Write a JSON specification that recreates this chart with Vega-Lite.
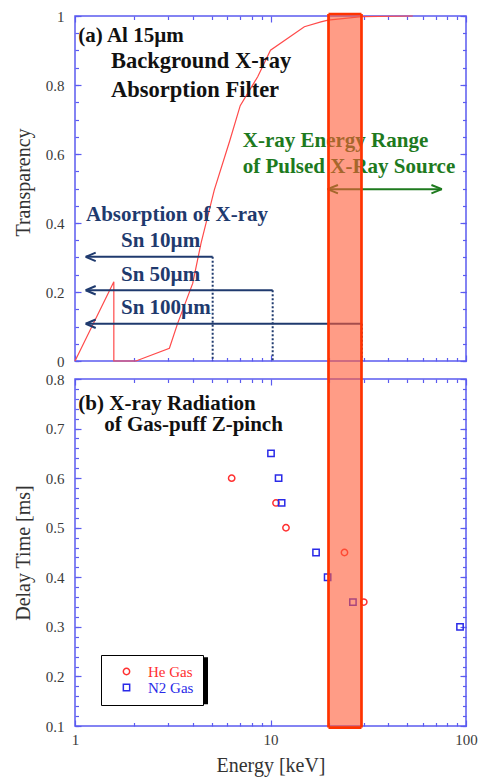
{
  "$schema": "https://vega.github.io/schema/vega-lite/v6.json",
  "padding": {"left": 12, "top": 8, "right": 5, "bottom": 2},
  "background": "white",
  "spacing": 18,
  "bounds": "flush",
  "config": {
    "view": {"stroke": "#5b5bf0", "strokeWidth": 1.5},
    "axis": {"domain": false, "grid": false, "tickColor": "#5b5bf0", "tickWidth": 1.2, "labelFont": "Liberation Serif", "labelFontSize": 15, "labelColor": "#3a3a3a", "titleFont": "Liberation Serif", "titleFontSize": 20, "titleFontWeight": "normal", "titleColor": "#333333", "labelFlush": false, "labelOverlap": false, "labelBound": false},
    "text": {"font": "Liberation Serif", "fontWeight": "bold", "fontSize": 21, "align": "left", "baseline": "alphabetic"}
  },
  "resolve": {"scale": {"color": "independent", "shape": "independent"}, "legend": {"color": "independent", "shape": "independent"}},
  "datasets": {
    "al": [
      {"i": 1, "E": 1.0, "T": 0.0},
      {"i": 2, "E": 1.58, "T": 0.23},
      {"i": 3, "E": 1.58, "T": 0.0},
      {"i": 4, "E": 2.05, "T": 0.0},
      {"i": 5, "E": 3.04, "T": 0.037},
      {"i": 6, "E": 3.35, "T": 0.109},
      {"i": 7, "E": 4.0, "T": 0.225},
      {"i": 8, "E": 4.41, "T": 0.341},
      {"i": 9, "E": 5.16, "T": 0.496},
      {"i": 10, "E": 6.2, "T": 0.64},
      {"i": 11, "E": 7.0, "T": 0.74},
      {"i": 12, "E": 8.6, "T": 0.824},
      {"i": 13, "E": 10.0, "T": 0.901},
      {"i": 14, "E": 14.9, "T": 0.969},
      {"i": 15, "E": 18.1, "T": 0.983},
      {"i": 16, "E": 19.7, "T": 0.988},
      {"i": 17, "E": 29.3, "T": 0.998},
      {"i": 18, "E": 53.4, "T": 1.0}
    ],
    "sn": [
      {"E0": 1.134, "Eh": 1.203, "E1": 5.06, "T": 0.302},
      {"E0": 1.134, "Eh": 1.203, "E1": 10.26, "T": 0.205},
      {"E0": 1.134, "Eh": 1.203, "E1": 29.3, "T": 0.108}
    ],
    "range": [{"E0": 19.7, "E1": 75.1, "Ea": 20.8, "Eb": 70.8, "T": 0.498}],
    "band": [{"E0": 19.8, "E1": 29.2}],
    "bandEdges": [{"E": 19.8}, {"E": 29.2}],
    "notesTop": [
      {"text": "(a) Al 15µm", "E": 1.04, "T": 0.9255, "grp": "black"},
      {"text": "Background X-ray", "E": 1.528, "T": 0.848, "grp": "black2"},
      {"text": "Absorption Filter", "E": 1.528, "T": 0.766, "grp": "black2"},
      {"text": "X-ray Energy Range", "E": 7.21, "T": 0.621, "grp": "green"},
      {"text": "of Pulsed X-Ray Source", "E": 7.21, "T": 0.544, "grp": "green"},
      {"text": "Absorption of X-ray", "E": 1.138, "T": 0.406, "grp": "navy"},
      {"text": "Sn 10µm", "E": 1.719, "T": 0.331, "grp": "navy"},
      {"text": "Sn 50µm", "E": 1.719, "T": 0.232, "grp": "navy"},
      {"text": "Sn 100µm", "E": 1.719, "T": 0.135, "grp": "navy"}
    ],
    "notesBottom": [
      {"text": "(b) X-ray Radiation", "E": 1.04, "D": 0.738},
      {"text": "of Gas-puff Z-pinch", "E": 1.412, "D": 0.6944}
    ],
    "gas": [
      {"gas": "He Gas", "E": 6.33, "D": 0.6},
      {"gas": "He Gas", "E": 10.67, "D": 0.55},
      {"gas": "He Gas", "E": 12.0, "D": 0.5},
      {"gas": "He Gas", "E": 23.9, "D": 0.45},
      {"gas": "He Gas", "E": 30.0, "D": 0.35},
      {"gas": "N2 Gas", "E": 10.06, "D": 0.65},
      {"gas": "N2 Gas", "E": 11.0, "D": 0.6},
      {"gas": "N2 Gas", "E": 11.4, "D": 0.55},
      {"gas": "N2 Gas", "E": 17.1, "D": 0.45},
      {"gas": "N2 Gas", "E": 19.6, "D": 0.4},
      {"gas": "N2 Gas", "E": 26.4, "D": 0.35},
      {"gas": "N2 Gas", "E": 93.2, "D": 0.3}
    ],
    "shadow": [{"E0": 1.407, "E1": 4.79, "D0": 0.1438, "D1": 0.2385}]
  },
  "vconcat": [
    {
      "width": 391,
      "height": 345,
      "resolve": {"axis": {"x": "independent", "y": "independent"}},
      "layer": [
        {
          "data": {"name": "al"},
          "mark": {"type": "line", "color": "#ff4a4a", "strokeWidth": 1.2},
          "encoding": {
            "x": {"field": "E", "type": "quantitative", "scale": {"type": "log", "domain": [1, 100], "nice": false}, "axis": {"orient": "bottom", "values": [1, 10, 100], "labels": false, "tickSize": -6, "title": null}},
            "y": {"field": "T", "type": "quantitative", "scale": {"domain": [0, 1], "nice": false, "zero": false}, "axis": {"orient": "left", "values": [0, 0.2, 0.4, 0.6, 0.8, 1], "format": "~g", "tickSize": -6, "labelPadding": 17, "title": "Transparency", "titleX": -52, "titleY": 166, "titleBaseline": "middle"}},
            "order": {"field": "i", "type": "quantitative"}
          }
        },
        {
          "data": {"name": "sn"},
          "mark": {"type": "rule", "color": "#1f3a6e", "strokeWidth": 2},
          "encoding": {
            "x": {"field": "E0", "type": "quantitative", "scale": {"type": "log", "domain": [1, 100], "nice": false}, "axis": {"orient": "bottom", "values": [2, 3, 4, 5, 6, 7, 8, 9, 20, 30, 40, 50, 60, 70, 80, 90], "labels": false, "tickSize": -3.5, "title": null}},
            "x2": {"field": "E1"},
            "y": {"field": "T", "type": "quantitative", "scale": {"domain": [0, 1], "nice": false, "zero": false}, "axis": {"orient": "left", "values": [0, 0.05, 0.1, 0.15, 0.2, 0.25, 0.3, 0.35, 0.4, 0.45, 0.5, 0.55, 0.6, 0.65, 0.7, 0.75, 0.8, 0.85, 0.9, 0.95, 1], "labels": false, "tickSize": -3.5, "title": null}}
          }
        },
        {
          "data": {"name": "sn"},
          "mark": {"type": "rule", "color": "#1f3a6e", "strokeWidth": 2, "strokeDash": [2, 2]},
          "encoding": {
            "x": {"field": "E1", "type": "quantitative", "scale": {"type": "log", "domain": [1, 100], "nice": false}, "axis": {"orient": "top", "values": [1, 10, 100], "labels": false, "tickSize": -6, "title": null}},
            "y": {"field": "T", "type": "quantitative", "scale": {"domain": [0, 1], "nice": false, "zero": false}, "axis": {"orient": "right", "values": [0, 0.2, 0.4, 0.6, 0.8, 1], "labels": false, "tickSize": -6, "title": null}},
            "y2": {"datum": 0}
          }
        },
        {
          "data": {"name": "sn"},
          "mark": {"type": "point", "shape": "M-1,0L1,-0.85M-1,0L1,0.85", "size": 100, "filled": false, "color": "#1f3a6e", "strokeWidth": 2, "opacity": 1},
          "encoding": {
            "x": {"field": "Eh", "type": "quantitative", "scale": {"type": "log", "domain": [1, 100], "nice": false}, "axis": {"orient": "top", "values": [2, 3, 4, 5, 6, 7, 8, 9, 20, 30, 40, 50, 60, 70, 80, 90], "labels": false, "tickSize": -3.5, "title": null}},
            "y": {"field": "T", "type": "quantitative", "scale": {"domain": [0, 1], "nice": false, "zero": false}, "axis": {"orient": "right", "values": [0, 0.05, 0.1, 0.15, 0.2, 0.25, 0.3, 0.35, 0.4, 0.45, 0.5, 0.55, 0.6, 0.65, 0.7, 0.75, 0.8, 0.85, 0.9, 0.95, 1], "labels": false, "tickSize": -3.5, "title": null}}
          }
        },
        {
          "data": {"name": "notesTop"},
          "transform": [{"filter": "datum.grp === 'black'"}],
          "mark": {"type": "text", "color": "#111111"},
          "encoding": {
            "x": {"field": "E", "type": "quantitative", "scale": {"type": "log", "domain": [1, 100], "nice": false}, "axis": null},
            "y": {"field": "T", "type": "quantitative", "scale": {"domain": [0, 1], "nice": false, "zero": false}, "axis": null},
            "text": {"field": "text"}
          }
        },
        {
          "data": {"name": "notesTop"},
          "transform": [{"filter": "datum.grp === 'black2'"}],
          "mark": {"type": "text", "color": "#111111", "fontSize": 22.5},
          "encoding": {
            "x": {"field": "E", "type": "quantitative", "scale": {"type": "log", "domain": [1, 100], "nice": false}, "axis": null},
            "y": {"field": "T", "type": "quantitative", "scale": {"domain": [0, 1], "nice": false, "zero": false}, "axis": null},
            "text": {"field": "text"}
          }
        },
        {
          "data": {"name": "notesTop"},
          "transform": [{"filter": "datum.grp === 'green'"}],
          "mark": {"type": "text", "color": "#1e7a1e"},
          "encoding": {
            "x": {"field": "E", "type": "quantitative", "scale": {"type": "log", "domain": [1, 100], "nice": false}, "axis": null},
            "y": {"field": "T", "type": "quantitative", "scale": {"domain": [0, 1], "nice": false, "zero": false}, "axis": null},
            "text": {"field": "text"}
          }
        },
        {
          "data": {"name": "notesTop"},
          "transform": [{"filter": "datum.grp === 'navy'"}],
          "mark": {"type": "text", "color": "#1f3a6e"},
          "encoding": {
            "x": {"field": "E", "type": "quantitative", "scale": {"type": "log", "domain": [1, 100], "nice": false}, "axis": null},
            "y": {"field": "T", "type": "quantitative", "scale": {"domain": [0, 1], "nice": false, "zero": false}, "axis": null},
            "text": {"field": "text"}
          }
        },
        {
          "data": {"name": "range"},
          "mark": {"type": "rule", "color": "#1e7a1e", "strokeWidth": 2},
          "encoding": {
            "x": {"field": "E0", "type": "quantitative", "scale": {"type": "log", "domain": [1, 100], "nice": false}, "axis": null},
            "x2": {"field": "E1"},
            "y": {"field": "T", "type": "quantitative", "scale": {"domain": [0, 1], "nice": false, "zero": false}, "axis": null}
          }
        },
        {
          "data": {"name": "range"},
          "mark": {"type": "point", "shape": "M-1,0L1,-0.8M-1,0L1,0.8", "size": 110, "filled": false, "color": "#1e7a1e", "strokeWidth": 2, "opacity": 1},
          "encoding": {
            "x": {"field": "Ea", "type": "quantitative", "scale": {"type": "log", "domain": [1, 100], "nice": false}, "axis": null},
            "y": {"field": "T", "type": "quantitative", "scale": {"domain": [0, 1], "nice": false, "zero": false}, "axis": null}
          }
        },
        {
          "data": {"name": "range"},
          "mark": {"type": "point", "shape": "M1,0L-1,-0.8M1,0L-1,0.8", "size": 110, "filled": false, "color": "#1e7a1e", "strokeWidth": 2, "opacity": 1},
          "encoding": {
            "x": {"field": "Eb", "type": "quantitative", "scale": {"type": "log", "domain": [1, 100], "nice": false}, "axis": null},
            "y": {"field": "T", "type": "quantitative", "scale": {"domain": [0, 1], "nice": false, "zero": false}, "axis": null}
          }
        },
        {
          "data": {"name": "band"},
          "mark": {"type": "rect", "color": "#ff5a36", "opacity": 0.6, "clip": false},
          "encoding": {
            "x": {"field": "E0", "type": "quantitative", "scale": {"type": "log", "domain": [1, 100], "nice": false}, "axis": null},
            "x2": {"field": "E1"},
            "y": {"datum": 1.0058, "type": "quantitative", "scale": {"domain": [0, 1], "nice": false, "zero": false}, "axis": null},
            "y2": {"datum": -0.026}
          }
        },
        {
          "data": {"name": "bandEdges"},
          "mark": {"type": "rule", "color": "#ff3300", "strokeWidth": 2.7, "clip": false},
          "encoding": {
            "x": {"field": "E", "type": "quantitative", "scale": {"type": "log", "domain": [1, 100], "nice": false}, "axis": null},
            "y": {"datum": 1.0058, "type": "quantitative", "scale": {"domain": [0, 1], "nice": false, "zero": false}, "axis": null},
            "y2": {"datum": -0.026}
          }
        },
        {
          "data": {"name": "band"},
          "mark": {"type": "rule", "color": "#ff3300", "strokeWidth": 2.7, "clip": false},
          "encoding": {
            "x": {"field": "E0", "type": "quantitative", "scale": {"type": "log", "domain": [1, 100], "nice": false}, "axis": null},
            "x2": {"field": "E1"},
            "y": {"datum": 1.0058, "type": "quantitative", "scale": {"domain": [0, 1], "nice": false, "zero": false}, "axis": null}
          }
        }
      ]
    },
    {
      "width": 391,
      "height": 347,
      "resolve": {"axis": {"x": "independent", "y": "independent"}},
      "layer": [
        {
          "data": {"name": "shadow"},
          "mark": {"type": "rect", "color": "#000000"},
          "encoding": {
            "x": {"field": "E0", "type": "quantitative", "scale": {"type": "log", "domain": [1, 100], "nice": false}, "axis": null},
            "x2": {"field": "E1"},
            "y": {"field": "D0", "type": "quantitative", "scale": {"domain": [0.1, 0.8], "nice": false, "zero": false}, "axis": null},
            "y2": {"field": "D1"}
          }
        },
        {
          "data": {"name": "gas"},
          "mark": {"type": "point", "filled": false, "size": 40, "strokeWidth": 1.5, "opacity": 1},
          "encoding": {
            "x": {"field": "E", "type": "quantitative", "scale": {"type": "log", "domain": [1, 100], "nice": false}, "axis": {"orient": "bottom", "values": [1, 10, 100], "format": "~g", "tickSize": -6, "labelPadding": 12, "title": "Energy [keV]", "titleY": 39, "titleBaseline": "middle"}},
            "y": {"field": "D", "type": "quantitative", "scale": {"domain": [0.1, 0.8], "nice": false, "zero": false}, "axis": {"orient": "left", "values": [0.1, 0.2, 0.3, 0.4, 0.5, 0.6, 0.7, 0.8], "format": "~g", "tickSize": -6, "labelPadding": 17, "title": "Delay Time [ms]", "titleX": -52, "titleBaseline": "middle"}},
            "color": {"field": "gas", "type": "nominal", "scale": {"domain": ["He Gas", "N2 Gas"], "range": ["#ff3030", "#2a2ae8"]}, "legend": {"title": null, "orient": "none", "legendX": 26, "legendY": 276, "padding": 9, "labelFont": "Liberation Serif", "labelFontSize": 15, "symbolSize": 40, "symbolStrokeWidth": 1.5, "symbolOffset": 9, "labelOffset": 14, "strokeColor": "#000000", "fillColor": "#ffffff", "rowPadding": 0, "labelColor": {"expr": "datum.label === 'He Gas' ? '#ff3030' : '#2a2ae8'"}}},
            "shape": {"field": "gas", "type": "nominal", "scale": {"domain": ["He Gas", "N2 Gas"], "range": ["circle", "square"]}, "legend": {"title": null, "orient": "none", "legendX": 26, "legendY": 276, "padding": 9, "labelFont": "Liberation Serif", "labelFontSize": 15, "symbolSize": 40, "symbolStrokeWidth": 1.5, "symbolOffset": 9, "labelOffset": 14, "strokeColor": "#000000", "fillColor": "#ffffff", "rowPadding": 0, "labelColor": {"expr": "datum.label === 'He Gas' ? '#ff3030' : '#2a2ae8'"}}}
          }
        },
        {
          "data": {"name": "notesBottom"},
          "mark": {"type": "text", "color": "#111111"},
          "encoding": {
            "x": {"field": "E", "type": "quantitative", "scale": {"type": "log", "domain": [1, 100], "nice": false}, "axis": {"orient": "bottom", "values": [2, 3, 4, 5, 6, 7, 8, 9, 20, 30, 40, 50, 60, 70, 80, 90], "labels": false, "tickSize": -3.5, "title": null}},
            "y": {"field": "D", "type": "quantitative", "scale": {"domain": [0.1, 0.8], "nice": false, "zero": false}, "axis": {"orient": "left", "values": [0.1, 0.12, 0.14, 0.16, 0.18, 0.2, 0.22, 0.24, 0.26, 0.28, 0.3, 0.32, 0.34, 0.36, 0.38, 0.4, 0.42, 0.44, 0.46, 0.48, 0.5, 0.52, 0.54, 0.56, 0.58, 0.6, 0.62, 0.64, 0.66, 0.68, 0.7, 0.72, 0.74, 0.76, 0.78, 0.8], "labels": false, "tickSize": -3.5, "title": null}},
            "text": {"field": "text"}
          }
        },
        {
          "data": {"name": "band"},
          "mark": {"type": "rect", "color": "#ff5a36", "opacity": 0.6, "clip": false},
          "encoding": {
            "x": {"field": "E0", "type": "quantitative", "scale": {"type": "log", "domain": [1, 100], "nice": false}, "axis": {"orient": "top", "values": [1, 10, 100], "labels": false, "tickSize": -6, "title": null}},
            "x2": {"field": "E1"},
            "y": {"datum": 0.818, "type": "quantitative", "scale": {"domain": [0.1, 0.8], "nice": false, "zero": false}, "axis": {"orient": "right", "values": [0.1, 0.2, 0.3, 0.4, 0.5, 0.6, 0.7, 0.8], "labels": false, "tickSize": -6, "title": null}},
            "y2": {"datum": 0.0968}
          }
        },
        {
          "data": {"name": "bandEdges"},
          "mark": {"type": "rule", "color": "#ff3300", "strokeWidth": 2.7, "clip": false},
          "encoding": {
            "x": {"field": "E", "type": "quantitative", "scale": {"type": "log", "domain": [1, 100], "nice": false}, "axis": {"orient": "top", "values": [2, 3, 4, 5, 6, 7, 8, 9, 20, 30, 40, 50, 60, 70, 80, 90], "labels": false, "tickSize": -3.5, "title": null}},
            "y": {"datum": 0.818, "type": "quantitative", "scale": {"domain": [0.1, 0.8], "nice": false, "zero": false}, "axis": {"orient": "right", "values": [0.1, 0.12, 0.14, 0.16, 0.18, 0.2, 0.22, 0.24, 0.26, 0.28, 0.3, 0.32, 0.34, 0.36, 0.38, 0.4, 0.42, 0.44, 0.46, 0.48, 0.5, 0.52, 0.54, 0.56, 0.58, 0.6, 0.62, 0.64, 0.66, 0.68, 0.7, 0.72, 0.74, 0.76, 0.78, 0.8], "labels": false, "tickSize": -3.5, "title": null}},
            "y2": {"datum": 0.0968}
          }
        },
        {
          "data": {"name": "band"},
          "mark": {"type": "rule", "color": "#ff3300", "strokeWidth": 2.7, "clip": false},
          "encoding": {
            "x": {"field": "E0", "type": "quantitative", "scale": {"type": "log", "domain": [1, 100], "nice": false}, "axis": null},
            "x2": {"field": "E1"},
            "y": {"datum": 0.0968, "type": "quantitative", "scale": {"domain": [0.1, 0.8], "nice": false, "zero": false}, "axis": null}
          }
        }
      ]
    }
  ]
}
